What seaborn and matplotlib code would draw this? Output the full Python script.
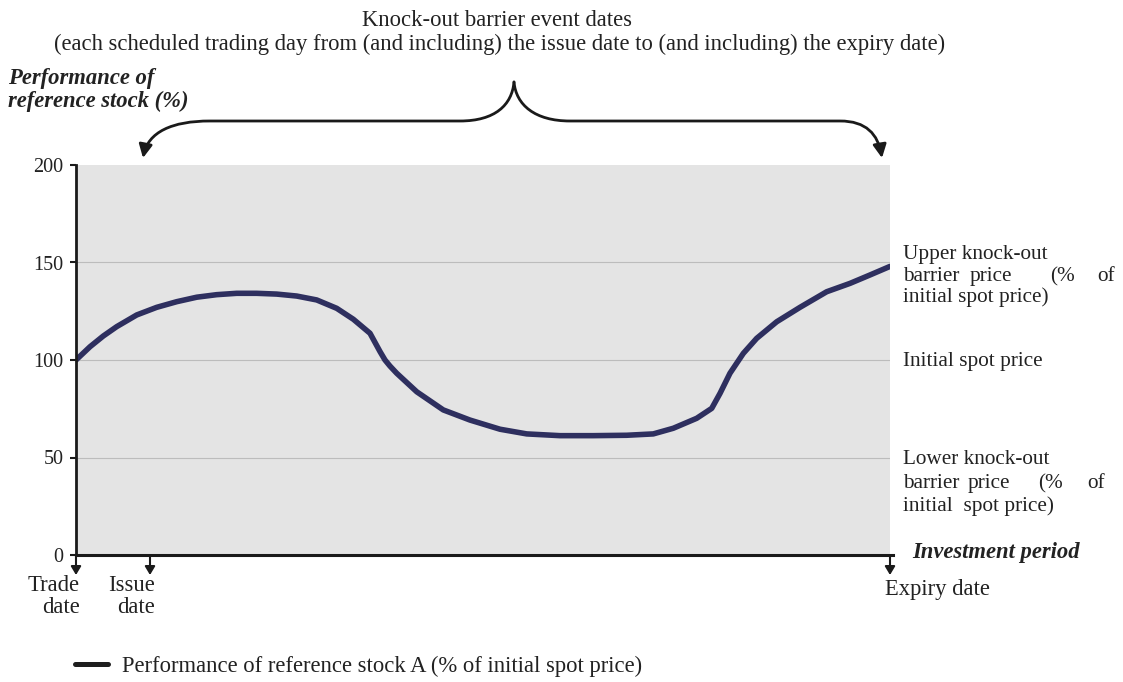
import numpy as np
import pandas as pd
import matplotlib
matplotlib.use("Agg")
import matplotlib.pyplot as plt
from matplotlib.path import Path
from matplotlib.patches import FancyArrowPatch
from matplotlib.lines import Line2D
import seaborn as sns

# ---- data ----
period = [0, 1.72, 3.35, 5.0, 7.46, 9.91, 12.37, 14.83, 17.28, 19.74, 22.2, 24.66,
          27.11, 29.57, 32.03, 34.07, 36.12, 37.35, 37.96, 38.57, 39.4, 41.86, 45.12,
          48.4, 52.09, 55.37, 59.46, 63.55, 67.65, 70.92, 73.38, 76.25, 78.1, 79.12,
          80.34, 81.98, 83.62, 86.08, 88.94, 92.22, 95.09, 97.54, 100]
performance = [100, 106.8, 112.3, 117.1, 123.1, 127.0, 129.9, 132.2, 133.5, 134.2,
               134.2, 133.8, 132.8, 130.8, 126.5, 120.9, 113.7, 104.3, 100, 96.9,
               93.2, 83.7, 74.4, 69.2, 64.5, 62.1, 61.2, 61.2, 61.4, 62.1, 65.0, 70.1,
               75.2, 82.9, 93.2, 103.4, 111.1, 119.6, 127.0, 135.0, 139.3, 143.6, 148.0]
y_ticks = [0, 50, 100, 150, 200]
series_name = "Performance of reference stock A (% of initial spot price)"

df = pd.DataFrame({"period": period, "performance": performance, "series": series_name})

sns.set_theme(style="white")
plt.rcParams["font.family"] = ["Liberation Serif", "DejaVu Serif"]

W, H = 1123, 682
fig = plt.figure(figsize=(W / 100, H / 100), dpi=100)

def fx(px):
    return px / W

def fy(py):
    return 1 - py / H

ax = fig.add_axes([fx(76), fy(555), fx(890) - fx(76), fy(165) - fy(555)])
ax.set_facecolor("#e4e4e4")

LINE_COLOR = "#2e2f5f"
sns.lineplot(data=df, x="period", y="performance", ax=ax, color=LINE_COLOR,
             linewidth=4.0, legend=False, solid_joinstyle="round", solid_capstyle="round")

ax.set_xlim(0, 100)
ax.set_ylim(0, 200)
ax.set_yticks(y_ticks)
ax.set_yticklabels([str(v) for v in y_ticks], fontsize=14.5, color="#222222")
ax.set_xticks([])
ax.tick_params(axis="y", length=4, width=1.5, color="#1a1a1a", direction="out",
               pad=5, left=True)
ax.set_xlabel("")
ax.set_ylabel("")
for v in [50, 100, 150]:
    ax.axhline(v, color="#bcbcbc", linewidth=0.8, zorder=0.5)

for s in ["top", "right"]:
    ax.spines[s].set_visible(False)
ax.spines["left"].set_color("#1a1a1a")
ax.spines["left"].set_linewidth(2.0)
ax.spines["bottom"].set_color("#1a1a1a")
ax.spines["bottom"].set_linewidth(2.2)
ax.spines["bottom"].set_bounds(0, 100.4)

TXT = "#222222"
FS = 16.3
FSR = 15.3
ft = fig.transFigure
VA = "center_baseline"
DY = -2  # small vertical correction for baseline-centred text

def T(x, y, s, ha="left", fs=FS, **kw):
    fig.text(fx(x), fy(y + DY), s, ha=ha, va=VA, fontsize=fs, color=TXT, **kw)

# top titles
T(497, 20, "Knock-out barrier event dates", ha="center")
T(500, 44, "(each scheduled trading day from (and including) the issue date to (and including) the expiry date)",
  ha="center")

# y-axis title
T(8, 78, "Performance of", fontweight="bold", fontstyle="italic")
T(8, 101, "reference stock (%)", fontweight="bold", fontstyle="italic")

# x-axis title
T(912, 552, "Investment period", fontweight="bold", fontstyle="italic")

# right-side labels
T(903, 254, "Upper knock-out", fs=FSR)
T(903, 276, "barrier", fs=FSR)
T(970, 276, "price", fs=FSR)
T(1050, 276, "(%", fs=FSR)
T(1115, 276, "of", ha="right", fs=FSR)
T(903, 297, "initial spot price)", fs=FSR)

T(903, 361, "Initial spot price", fs=FSR)

T(903, 459, "Lower knock-out", fs=FSR)
T(903, 483, "barrier", fs=FSR)
T(968, 483, "price", fs=FSR)
T(1038, 483, "(%", fs=FSR)
T(1105, 483, "of", ha="right", fs=FSR)
T(903, 506, "initial  spot price)", fs=FSR)

# bottom date arrows and labels
def down_arrow(px, y0, y1):
    a = FancyArrowPatch((fx(px), fy(y0)), (fx(px), fy(y1)), transform=ft,
                        arrowstyle="-|>,head_length=5,head_width=3", mutation_scale=1,
                        color="#1a1a1a", linewidth=1.5, shrinkA=0, shrinkB=0)
    fig.patches.append(a)

down_arrow(76, 556, 575)
down_arrow(150, 556, 575)
down_arrow(890, 556, 575)

T(80, 585, "Trade", ha="right")
T(80, 607, "date", ha="right")
T(155, 585, "Issue", ha="right")
T(155, 607, "date", ha="right")
T(885, 589, "Expiry date")

# brace with arrows
def pix_path(points, codes):
    return Path([(fx(x), fy(y)) for x, y in points], codes)

left_pts = [(514, 82), (512, 105), (495, 121), (460, 121), (210, 121),
            (172, 121), (148, 132), (143, 158)]
right_pts = [(514, 82), (516, 105), (535, 121), (570, 121), (840, 121),
             (866, 121), (878, 134), (882, 158)]
codes = [Path.MOVETO, Path.CURVE4, Path.CURVE4, Path.CURVE4, Path.LINETO,
         Path.CURVE4, Path.CURVE4, Path.CURVE4]
for pts in (left_pts, right_pts):
    p = FancyArrowPatch(path=pix_path(pts, codes), transform=ft,
                        arrowstyle="-|>,head_length=8,head_width=4", mutation_scale=1,
                        color="#1a1a1a", linewidth=2.0)
    fig.patches.append(p)

# legend
handle = Line2D([0], [0], color="#1e1e1e", linewidth=3.6)
fig.legend([handle], [series_name], loc="center left",
           bbox_to_anchor=(fx(75), fy(666)), frameon=False, fontsize=FS,
           borderpad=0, borderaxespad=0,
           handlelength=1.46, handletextpad=0.62, labelcolor=TXT)

fig.savefig("out.png", dpi=100)
